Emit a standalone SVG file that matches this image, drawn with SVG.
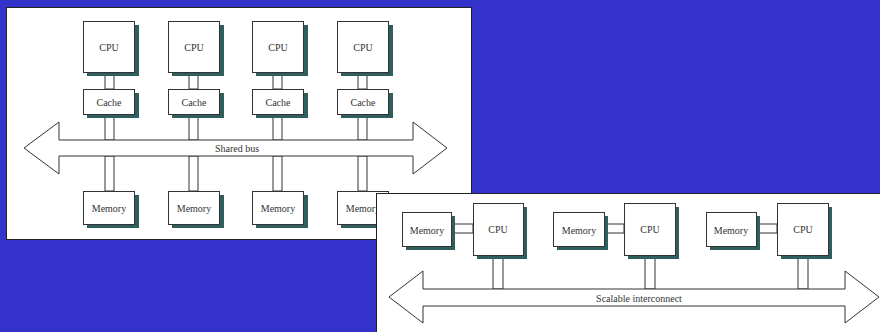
<svg xmlns="http://www.w3.org/2000/svg" width="880" height="332" viewBox="0 0 880 332">
<defs>
<style>
.panel{fill:#fff;stroke:#222;stroke-width:1}
.box{fill:#fff;stroke:#333;stroke-width:1}
.sh{fill:#2f5e5e}
.lbl{font-family:"Liberation Serif",serif;font-size:10px;fill:#333;text-anchor:middle;dominant-baseline:central}
.link{fill:#fff;stroke:#333;stroke-width:1}
.bus{fill:#fff;stroke:#333;stroke-width:1;stroke-linejoin:miter}
</style>
</defs>
<rect width="880" height="332" fill="#3333cc"/>
<rect class="panel" x="6.5" y="7.5" width="465" height="232"/>
<g id="connectors-left">
<rect class="link" x="105" y="72" width="9" height="17"/>
<rect class="link" x="105" y="114" width="9" height="26"/>
<rect class="link" x="105" y="156" width="9" height="35"/>
<rect class="link" x="189" y="72" width="9" height="17"/>
<rect class="link" x="189" y="114" width="9" height="26"/>
<rect class="link" x="189" y="156" width="9" height="35"/>
<rect class="link" x="273" y="72" width="9" height="17"/>
<rect class="link" x="273" y="114" width="9" height="26"/>
<rect class="link" x="273" y="156" width="9" height="35"/>
<rect class="link" x="358" y="72" width="9" height="17"/>
<rect class="link" x="358" y="114" width="9" height="26"/>
<rect class="link" x="358" y="156" width="9" height="35"/>
</g>
<g id="shared-bus">
<polygon class="bus" points="24,148 59,122 59,140 413,140 413,122 447,148 413,174 413,156 59,156 59,174"/>
<text class="lbl" x="237" y="148">Shared bus</text>
</g>
<g id="cpu1"><rect class="sh" x="87" y="25" width="52" height="51"/><rect class="box" x="83.5" y="21.5" width="51" height="51"/><text class="lbl" x="109" y="47">CPU</text></g>
<g id="cpu2"><rect class="sh" x="172" y="25" width="52" height="51"/><rect class="box" x="168.5" y="21.5" width="51" height="51"/><text class="lbl" x="194" y="47">CPU</text></g>
<g id="cpu3"><rect class="sh" x="256" y="25" width="52" height="51"/><rect class="box" x="252.5" y="21.5" width="51" height="51"/><text class="lbl" x="278" y="47">CPU</text></g>
<g id="cpu4"><rect class="sh" x="341" y="25" width="52" height="51"/><rect class="box" x="337.5" y="21.5" width="51" height="51"/><text class="lbl" x="363" y="47">CPU</text></g>
<g id="cache1"><rect class="sh" x="87" y="93" width="52" height="25"/><rect class="box" x="83.5" y="89.5" width="51" height="25"/><text class="lbl" x="109" y="102">Cache</text></g>
<g id="cache2"><rect class="sh" x="172" y="93" width="52" height="25"/><rect class="box" x="168.5" y="89.5" width="51" height="25"/><text class="lbl" x="194" y="102">Cache</text></g>
<g id="cache3"><rect class="sh" x="256" y="93" width="52" height="25"/><rect class="box" x="252.5" y="89.5" width="51" height="25"/><text class="lbl" x="278" y="102">Cache</text></g>
<g id="cache4"><rect class="sh" x="341" y="93" width="52" height="25"/><rect class="box" x="337.5" y="89.5" width="51" height="25"/><text class="lbl" x="363" y="102">Cache</text></g>
<g id="mem1"><rect class="sh" x="87" y="195" width="52" height="33"/><rect class="box" x="83.5" y="191.5" width="51" height="33"/><text class="lbl" x="109" y="208">Memory</text></g>
<g id="mem2"><rect class="sh" x="172" y="195" width="52" height="33"/><rect class="box" x="168.5" y="191.5" width="51" height="33"/><text class="lbl" x="194" y="208">Memory</text></g>
<g id="mem3"><rect class="sh" x="256" y="195" width="52" height="33"/><rect class="box" x="252.5" y="191.5" width="51" height="33"/><text class="lbl" x="278" y="208">Memory</text></g>
<g id="mem4"><rect class="sh" x="341" y="195" width="52" height="33"/><rect class="box" x="337.5" y="191.5" width="51" height="33"/><text class="lbl" x="363" y="208">Memory</text></g>
<rect class="panel" x="376.5" y="193.5" width="520" height="150"/>
<g id="connectors-right">
<rect class="link" x="451" y="224" width="22" height="9"/>
<rect class="link" x="493" y="255" width="10" height="34"/>
<rect class="link" x="604" y="224" width="20" height="9"/>
<rect class="link" x="645" y="255" width="10" height="34"/>
<rect class="link" x="756" y="224" width="21" height="9"/>
<rect class="link" x="798" y="255" width="10" height="34"/>
</g>
<g id="scalable-interconnect">
<polygon class="bus" points="389,297 423,271 423,289 845,289 845,271 879,297 845,323 845,306 423,306 423,323"/>
<text class="lbl" x="639" y="298">Scalable interconnect</text>
</g>
<g id="rmem1"><rect class="sh" x="406" y="216" width="49" height="34"/><rect class="box" x="402.5" y="212.5" width="49" height="34"/><text class="lbl" x="427" y="230">Memory</text></g>
<g id="rcpu1"><rect class="sh" x="477" y="207" width="50" height="52"/><rect class="box" x="473.5" y="203.5" width="50" height="52"/><text class="lbl" x="498" y="229">CPU</text></g>
<g id="rmem2"><rect class="sh" x="557" y="216" width="51" height="34"/><rect class="box" x="553.5" y="212.5" width="51" height="34"/><text class="lbl" x="579" y="230">Memory</text></g>
<g id="rcpu2"><rect class="sh" x="628" y="207" width="51" height="52"/><rect class="box" x="624.5" y="203.5" width="51" height="52"/><text class="lbl" x="650" y="229">CPU</text></g>
<g id="rmem3"><rect class="sh" x="710" y="216" width="50" height="34"/><rect class="box" x="706.5" y="212.5" width="50" height="34"/><text class="lbl" x="731" y="230">Memory</text></g>
<g id="rcpu3"><rect class="sh" x="781" y="207" width="51" height="52"/><rect class="box" x="777.5" y="203.5" width="51" height="52"/><text class="lbl" x="803" y="229">CPU</text></g>
</svg>
